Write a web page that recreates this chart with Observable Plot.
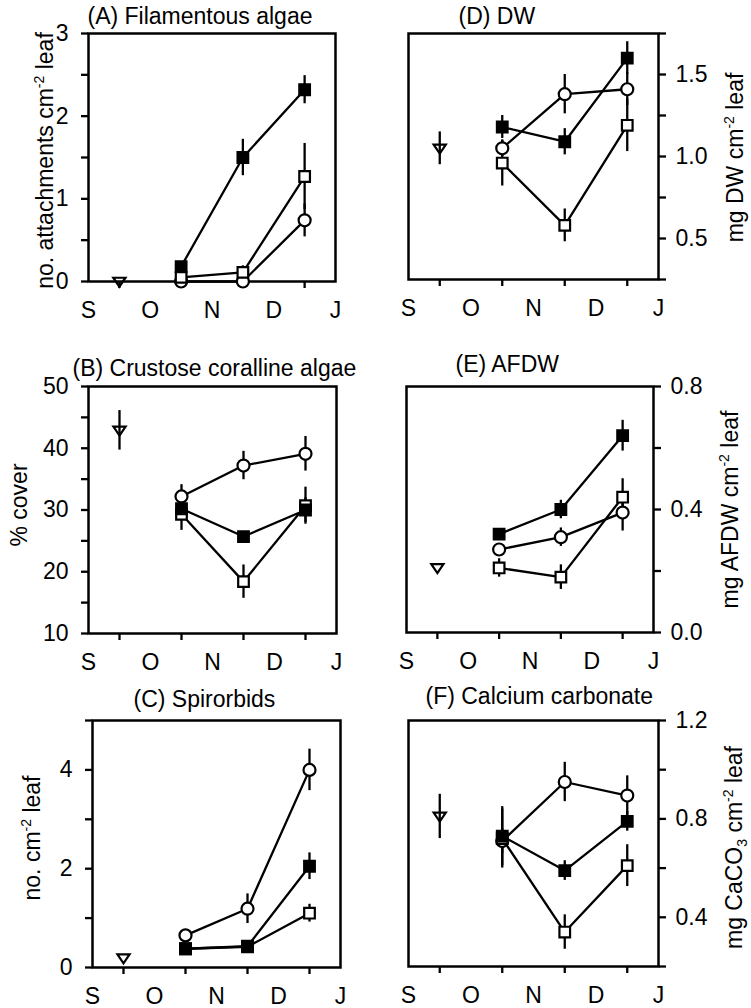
<!DOCTYPE html>
<html>
<head>
<meta charset="utf-8">
<script src="https://cdn.jsdelivr.net/npm/d3@7"></script>
<script src="https://cdn.jsdelivr.net/npm/@observablehq/plot@0.6"></script>
<style>
  body { margin: 0; background: #fff; }
  #fig { position: relative; width: 751px; height: 1008px; background: #fff; }
  #fig svg { position: absolute; overflow: visible; }
</style>
</head>
<body>
<div id="fig"></div>
<script>
// ---------- shared categories ----------
const months = ["S", "O", "N", "D", "J"];
const monthStarts = [0, 1, 2, 3, 4];
const sampleTicks = [0.5, 1.5, 2.5, 3.5];
const initialTime = [0.5];
const sampleTimes = [1.5, 2.5, 3.5];
const seriesOrder = ["open circle", "open square", "filled square"];

// ---------- (A) Filamentous algae ----------
const aTitle = "(A) Filamentous algae";
const aLabel = "no. attachments cm^{-2} leaf";
const aInitial = [0];
const aInitialSE = [0];
const aCircle = [0.0, 0.0, 0.74];
const aCircleSE = [0, 0, 0.20];
const aOpenSq = [0.05, 0.11, 1.27];
const aOpenSqSE = [0.02, 0.08, 0.40];
const aFilled = [0.18, 1.50, 2.32];
const aFilledSE = [0.03, 0.22, 0.17];
const aDomain = [0, 3];
const aTicks = [0, 0.5, 1, 1.5, 2, 2.5, 3];
const aTickLabels = ["0", "", "1", "", "2", "", "3"];

// ---------- (B) Crustose coralline algae ----------
const bTitle = "(B) Crustose coralline algae";
const bLabel = "% cover";
const bInitial = [42.9];
const bInitialSE = [3.2];
const bCircle = [32.2, 37.2, 39.1];
const bCircleSE = [1.9, 2.3, 2.8];
const bOpenSq = [29.3, 18.4, 30.7];
const bOpenSqSE = [2.6, 2.7, 3.0];
const bFilled = [30.2, 25.7, 30.0];
const bFilledSE = [1.5, 0.8, 2.0];
const bDomain = [10, 50];
const bTicks = [10, 15, 20, 25, 30, 35, 40, 45, 50];
const bTickLabels = ["10", "", "20", "", "30", "", "40", "", "50"];

// ---------- (C) Spirorbids ----------
const cTitle = "(C) Spirorbids";
const cLabel = "no. cm^{-2} leaf";
const cInitial = [0.19];
const cInitialSE = [0];
const cCircle = [0.65, 1.19, 4.00];
const cCircleSE = [0.05, 0.30, 0.42];
const cOpenSq = [0.38, 0.42, 1.10];
const cOpenSqSE = [0.05, 0.05, 0.18];
const cFilled = [0.38, 0.43, 2.05];
const cFilledSE = [0.05, 0.05, 0.27];
const cDomain = [0, 5];
const cTicks = [0, 1, 2, 3, 4, 5];
const cTickLabels = ["0", "", "2", "", "4", ""];

// ---------- (D) DW ----------
const dTitle = "(D) DW";
const dLabel = "mg DW cm^{-2} leaf";
const dInitial = [1.05];
const dInitialSE = [0.10];
const dCircle = [1.05, 1.38, 1.41];
const dCircleSE = [0.05, 0.12, 0.10];
const dOpenSq = [0.96, 0.58, 1.19];
const dOpenSqSE = [0.14, 0.10, 0.16];
const dFilled = [1.18, 1.09, 1.60];
const dFilledSE = [0.07, 0.08, 0.10];
const dDomain = [0.25, 1.75];
const dTicks = [0.25, 0.5, 0.75, 1.0, 1.25, 1.5, 1.75];
const dTickLabels = ["", "0.5", "", "1.0", "", "1.5", ""];

// ---------- (E) AFDW ----------
const eTitle = "(E) AFDW";
const eLabel = "mg AFDW cm^{-2} leaf";
const eInitial = [0.21];
const eInitialSE = [0];
const eCircle = [0.27, 0.31, 0.39];
const eCircleSE = [0.01, 0.03, 0.06];
const eOpenSq = [0.21, 0.18, 0.44];
const eOpenSqSE = [0.03, 0.04, 0.06];
const eFilled = [0.32, 0.40, 0.64];
const eFilledSE = [0.01, 0.03, 0.05];
const eDomain = [0, 0.8];
const eTicks = [0, 0.2, 0.4, 0.6, 0.8];
const eTickLabels = ["0.0", "", "0.4", "", "0.8"];

// ---------- (F) Calcium carbonate ----------
const fTitle = "(F) Calcium carbonate";
const fLabel = "mg CaCO_{3} cm^{-2} leaf";
const fInitial = [0.81];
const fInitialSE = [0.09];
const fCircle = [0.71, 0.95, 0.895];
const fCircleSE = [0.05, 0.08, 0.08];
const fOpenSq = [0.72, 0.34, 0.61];
const fOpenSqSE = [0.12, 0.07, 0.085];
const fFilled = [0.73, 0.59, 0.79];
const fFilledSE = [0.12, 0.04, 0.04];
const fDomain = [0.2, 1.2];
const fTicks = [0.2, 0.4, 0.6, 0.8, 1.0, 1.2];
const fTickLabels = ["", "0.4", "", "0.8", "", "1.2"];

// ---------- build long tables ----------
function buildRows(init, initSE, circle, circleSE, openSq, openSqSE, filled, filledSE) {
  const rows = [];
  initialTime.forEach((t, i) => rows.push({t, v: init[i], se: initSE[i], series: "initial"}));
  const add = (name, m, s) => sampleTimes.forEach((t, i) => rows.push({t, v: m[i], se: s[i], series: name}));
  add("open circle", circle, circleSE);
  add("open square", openSq, openSqSE);
  add("filled square", filled, filledSE);
  return rows;
}

const panels = {
  A: {title: aTitle, label: aLabel, domain: aDomain, ticks: aTicks, tickLabels: aTickLabels,
      rows: buildRows(aInitial, aInitialSE, aCircle, aCircleSE, aOpenSq, aOpenSqSE, aFilled, aFilledSE)},
  B: {title: bTitle, label: bLabel, domain: bDomain, ticks: bTicks, tickLabels: bTickLabels,
      rows: buildRows(bInitial, bInitialSE, bCircle, bCircleSE, bOpenSq, bOpenSqSE, bFilled, bFilledSE)},
  C: {title: cTitle, label: cLabel, domain: cDomain, ticks: cTicks, tickLabels: cTickLabels,
      rows: buildRows(cInitial, cInitialSE, cCircle, cCircleSE, cOpenSq, cOpenSqSE, cFilled, cFilledSE)},
  D: {title: dTitle, label: dLabel, domain: dDomain, ticks: dTicks, tickLabels: dTickLabels,
      rows: buildRows(dInitial, dInitialSE, dCircle, dCircleSE, dOpenSq, dOpenSqSE, dFilled, dFilledSE)},
  E: {title: eTitle, label: eLabel, domain: eDomain, ticks: eTicks, tickLabels: eTickLabels,
      rows: buildRows(eInitial, eInitialSE, eCircle, eCircleSE, eOpenSq, eOpenSqSE, eFilled, eFilledSE)},
  F: {title: fTitle, label: fLabel, domain: fDomain, ticks: fTicks, tickLabels: fTickLabels,
      rows: buildRows(fInitial, fInitialSE, fCircle, fCircleSE, fOpenSq, fOpenSqSE, fFilled, fFilledSE)}
};

// ---------- layout (positions/styles only) ----------
const layout = [
  {key: "A", left: 0,   top: 0,   width: 375, height: 320, mt: 33, mr: 40, mb: 39, ml: 88, side: "left",  labelDx: -36, labelDy: 3,  titleDx: -1,  titleDy: -10},
  {key: "D", left: 375, top: 0,   width: 376, height: 320, mt: 33, mr: 93, mb: 41, ml: 33, side: "right", labelDx: 84,  labelDy: 1,  titleDx: 50,  titleDy: -10},
  {key: "B", left: 0,   top: 320, width: 375, height: 340, mt: 66, mr: 39, mb: 27, ml: 88, side: "left",  labelDx: -62, labelDy: -5, titleDx: -16, titleDy: -11},
  {key: "E", left: 375, top: 320, width: 376, height: 340, mt: 66, mr: 98, mb: 28, ml: 31, side: "right", labelDx: 84,  labelDy: 0,  titleDx: 49,  titleDy: -15},
  {key: "C", left: 0,   top: 660, width: 375, height: 348, mt: 60, mr: 35, mb: 41, ml: 92, side: "left",  labelDx: -53, labelDy: -6, titleDx: 41,  titleDy: -14},
  {key: "F", left: 375, top: 660, width: 376, height: 348, mt: 60, mr: 93, mb: 42, ml: 33, side: "right", labelDx: 83,  labelDy: 4,  titleDx: 17,  titleDy: -17}
];

const FONT = "'Liberation Sans', Arial, Helvetica, sans-serif";
const FS = 23;
const LW = 2.3;

const triangleDown = {
  draw(context, size) {
    const r = Math.sqrt(size / Math.PI);
    const w = r * 1.05;
    context.moveTo(-w, -r * 0.65);
    context.lineTo(w, -r * 0.65);
    context.lineTo(0, r * 0.9);
    context.closePath();
  }
};
const symbolOf = {"initial": triangleDown, "open circle": d3.symbolCircle, "open square": d3.symbolSquare, "filled square": d3.symbolSquare};
const fillOf = {"initial": "none", "open circle": "white", "open square": "white", "filled square": "black"};

function richText(svg) {
  const NS = "http://www.w3.org/2000/svg";
  svg.querySelectorAll("text").forEach(t => {
    const s = t.textContent;
    if (!/[\^_]\{/.test(s)) return;
    const re = /([\^_])\{([^}]*)\}/g;
    const parts = [];
    let last = 0, m;
    while ((m = re.exec(s))) {
      if (m.index > last) parts.push({text: s.slice(last, m.index), kind: "n"});
      parts.push({text: m[2], kind: m[1] === "^" ? "sup" : "sub"});
      last = re.lastIndex;
    }
    if (last < s.length) parts.push({text: s.slice(last), kind: "n"});
    t.textContent = "";
    let cur = 0;
    for (const p of parts) {
      const target = p.kind === "sup" ? -9 : p.kind === "sub" ? 5 : 0;
      const ts = document.createElementNS(NS, "tspan");
      if (target !== cur) ts.setAttribute("dy", target - cur);
      if (p.kind !== "n") ts.setAttribute("font-size", "14");
      ts.textContent = p.text;
      t.appendChild(ts);
      cur = target;
    }
  });
}

const fig = document.getElementById("fig");
for (const cfg of layout) {
  const d = panels[cfg.key];
  const data = d.rows;
  const fmtTick = v => {
    const i = d.ticks.findIndex(t => Math.abs(t - v) < 1e-9);
    return i >= 0 ? d.tickLabels[i] : "";
  };
  const chart = Plot.plot({
    width: cfg.width,
    height: cfg.height,
    marginTop: cfg.mt,
    marginRight: cfg.mr,
    marginBottom: cfg.mb,
    marginLeft: cfg.ml,
    style: {fontFamily: FONT, fontSize: FS + "px", background: "transparent", overflow: "visible", color: "black"},
    x: {domain: [0, 4]},
    y: {domain: d.domain},
    marks: [
      Plot.axisX({ticks: sampleTicks, tickSize: 7, tickFormat: () => "", strokeWidth: LW, label: null}),
      Plot.axisX({ticks: monthStarts, tickSize: 0, tickPadding: 20, tickFormat: v => months[v], label: null, fontSize: FS}),
      Plot.axisY({anchor: cfg.side, ticks: d.ticks, tickSize: 7, tickPadding: cfg.side === "left" ? 13 : 10,
                  tickFormat: fmtTick, strokeWidth: LW, label: null, fontSize: FS}),
      Plot.frame({strokeWidth: 2.5}),
      Plot.ruleX(data.filter(r => r.se > 0), {x: "t", y1: r => r.v - r.se, y2: r => r.v + r.se, strokeWidth: LW}),
      Plot.line(data.filter(r => r.series !== "initial"), {x: "t", y: "v", z: "series", strokeWidth: LW}),
      ...seriesOrder.map(s => Plot.dot(data.filter(r => r.series === s),
        {x: "t", y: "v", symbol: symbolOf[s], r: 6, fill: fillOf[s], stroke: "black", strokeWidth: 2.2})),
      Plot.dot(data.filter(r => r.series === "initial"),
        {x: "t", y: "v", symbol: triangleDown, r: 5.8, fill: fillOf["initial"], stroke: "black", strokeWidth: 2.2}),
      Plot.text([d.title], {text: t => t, frameAnchor: "top-left", textAnchor: "start", lineAnchor: "bottom",
                            dx: cfg.titleDx, dy: cfg.titleDy, fontSize: FS}),
      Plot.text([d.label], {text: t => t, frameAnchor: cfg.side, rotate: -90, textAnchor: "middle", lineAnchor: "bottom",
                            dx: cfg.labelDx, dy: cfg.labelDy, fontSize: FS})
    ]
  });
  chart.style.left = cfg.left + "px";
  chart.style.top = cfg.top + "px";
  chart.style.position = "absolute";
  richText(chart);
  fig.appendChild(chart);
}
</script>
</body>
</html>
